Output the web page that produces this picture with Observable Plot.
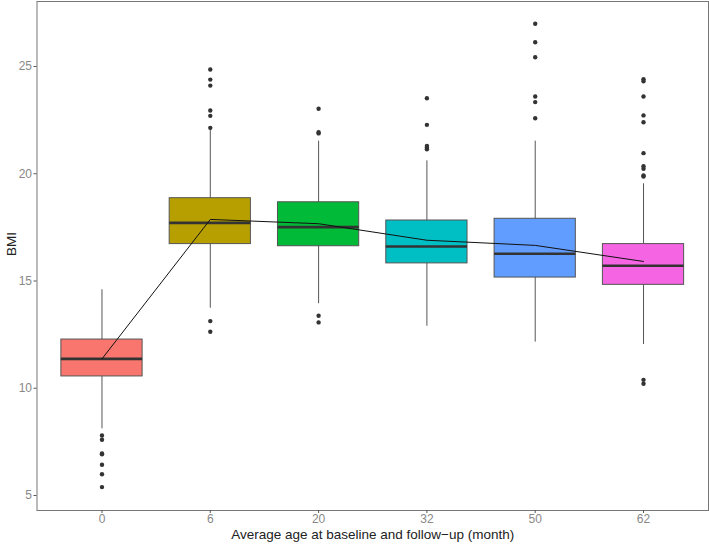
<!DOCTYPE html>
<html>
<head>
<meta charset="utf-8">
<script src="https://cdn.jsdelivr.net/npm/d3@7"></script>
<script src="https://cdn.jsdelivr.net/npm/@observablehq/plot@0.6"></script>
<style>
  body { margin: 0; background: #fff; }
  svg { font-family: "Liberation Sans", Arial, sans-serif; }
</style>
</head>
<body>
<div id="chart"></div>
<script>
// Categories (average age at baseline and follow-up, month)
const categories = ["0", "6", "20", "32", "50", "62"];
const colors = ["#F8766D", "#B79F00", "#00BA38", "#00BFC4", "#619CFF", "#F564E3"];

// Box statistics (BMI)
const whiskerLow  = [8.11, 13.73, 13.94, 12.89, 12.15, 12.04];
const q1          = [10.55, 16.72, 16.62, 15.82, 15.16, 14.82];
const median      = [11.37, 17.71, 17.51, 16.61, 16.27, 15.71];
const q3          = [12.27, 18.86, 18.67, 17.82, 17.90, 16.72];
const whiskerHigh = [14.59, 22.12, 21.52, 20.60, 21.52, 19.53];

// Mean trajectory
const means = [11.37, 17.87, 17.67, 16.90, 16.66, 15.91];

// Outliers per category
const outliers = [
  [7.80, 7.60, 6.96, 6.92, 6.43, 5.99, 5.39],
  [24.86, 24.39, 24.11, 22.95, 22.70, 22.14, 13.13, 12.63],
  [23.03, 21.94, 21.88, 13.38, 13.07],
  [23.52, 22.28, 21.30, 21.22, 21.14],
  [26.99, 26.13, 25.43, 23.60, 23.34, 22.59],
  [24.41, 24.31, 23.60, 22.72, 22.40, 20.96, 20.35, 20.23, 19.92, 19.87, 10.39, 10.21]
];

const yTicks = [5, 10, 15, 20, 25];
const xTitle = "Average age at baseline and follow\u2212up (month)";
const yTitle = "BMI";

const boxes = categories.map((c, i) => ({
  i: i + 1, cat: c, color: colors[i],
  lo: whiskerLow[i], q1: q1[i], med: median[i], q3: q3[i], hi: whiskerHigh[i], mean: means[i]
}));
const outlierData = outliers.flatMap((arr, i) => arr.map(v => ({i: i + 1, v})));
const half = 0.375;

const chart = Plot.plot({
  width: 709,
  height: 545,
  marginLeft: 36.5,
  marginRight: 1,
  marginTop: 1,
  marginBottom: 35,
  style: {fontFamily: "Liberation Sans, Arial, sans-serif", fontSize: "12px", background: "#fff"},
  x: {type: "linear", domain: [0.4, 6.6], axis: null},
  y: {domain: [4.3, 28.03], axis: null},
  marks: [
    Plot.ruleX(boxes, {x: "i", y1: "lo", y2: "hi", stroke: "#555", strokeWidth: 1}),
    Plot.rect(boxes, {x1: d => d.i - half, x2: d => d.i + half, y1: "q1", y2: "q3", fill: d => d.color, stroke: "#555", strokeWidth: 1}),
    Plot.ruleY(boxes, {x1: d => d.i - half, x2: d => d.i + half, y: "med", stroke: "#333", strokeWidth: 2.6}),
    Plot.dot(outlierData, {x: "i", y: "v", r: 2.2, fill: "#333", stroke: "none"}),
    Plot.line(boxes, {x: "i", y: "mean", stroke: "#111", strokeWidth: 1}),
    Plot.frame({stroke: "#777", strokeWidth: 1}),
    Plot.axisX(boxes.map(d => d.i), {anchor: "bottom", tickSize: 3, tickPadding: 1, tickFormat: d => categories[d - 1], stroke: "#555", fill: "#888", fontSize: 12, label: null}),
    Plot.axisY(yTicks, {anchor: "left", tickSize: 3, tickPadding: 2, stroke: "#555", fill: "#888", fontSize: 12, label: null}),
    Plot.text([xTitle], {frameAnchor: "bottom", dy: 28.5, fontSize: 13.5, fill: "#222"}),
    Plot.text([yTitle], {frameAnchor: "left", dx: -25, rotate: -90, fontSize: 13.5, fill: "#222"})
  ]
});
document.getElementById("chart").appendChild(chart);
</script>
</body>
</html>
